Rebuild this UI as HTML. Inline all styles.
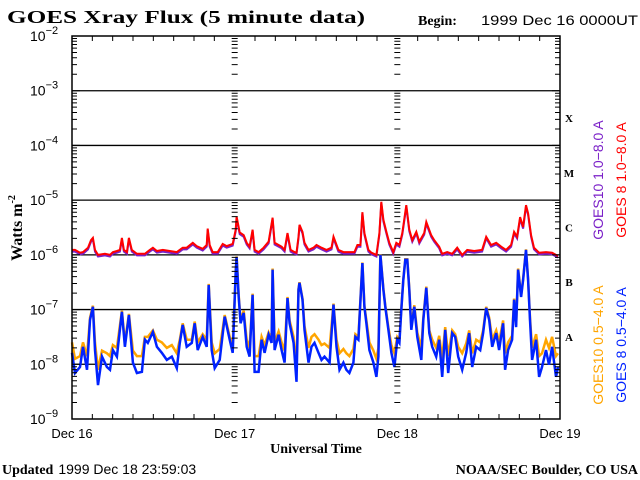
<!DOCTYPE html>
<html><head><meta charset="utf-8"><style>
html,body{margin:0;padding:0;background:#fff;}
svg{display:block;}
.sans{font-family:"Liberation Sans",sans-serif;}
.serif{font-family:"Liberation Serif",serif;font-weight:bold;}
</style></head><body>
<svg id="chart" width="640" height="480" viewBox="0 0 640 480" xmlns="http://www.w3.org/2000/svg">
<text class="serif" x="7" y="23" font-size="18" textLength="358" lengthAdjust="spacingAndGlyphs">GOES Xray Flux (5 minute data)</text>
<text class="serif" x="418" y="25" font-size="14">Begin:</text>
<text class="sans" x="481" y="25" font-size="14" textLength="157" lengthAdjust="spacingAndGlyphs">1999 Dec 16 0000UT</text>
<g id="grid"></g>
<g id="series"></g>
<g id="axes"></g>
<text class="serif" font-size="16" transform="translate(22,228) rotate(-90)" text-anchor="middle">Watts m<tspan font-size="10" dy="-7">-2</tspan></text>
<text class="serif" x="316" y="453" font-size="14" text-anchor="middle">Universal Time</text>
<text x="2" y="474" font-size="14"><tspan class="serif">Updated</tspan><tspan class="sans" dx="5">1999 Dec 18 23:59:03</tspan></text>
<text class="serif" x="638" y="474" font-size="14" text-anchor="end">NOAA/SEC Boulder, CO USA</text>
<text class="sans" font-size="14" fill="#7b20c8" transform="translate(603,180) rotate(-90)" text-anchor="middle">GOES10 1.0−8.0 A</text>
<text class="sans" font-size="14" fill="#ff0000" transform="translate(626,180) rotate(-90)" text-anchor="middle">GOES 8 1.0−8.0 A</text>
<text class="sans" font-size="14" fill="#ffa500" transform="translate(603,345) rotate(-90)" text-anchor="middle">GOES10 0.5−4.0 A</text>
<text class="sans" font-size="14" fill="#0022ff" transform="translate(626,345) rotate(-90)" text-anchor="middle">GOES 8 0.5−4.0 A</text>
</svg>
<script>
// log10 flux values (W m^-2) at times in hours from 1999 Dec 16 00:00 UT
const shortHours=[0,0.44,1.18,1.62,2.21,2.65,3.09,3.39,3.83,4.42,5.15,5.6,6.04,6.63,7.36,7.8,8.39,8.98,9.57,10.31,10.75,11.19,11.93,12.52,13.25,13.99,14.72,15.46,15.9,16.34,16.93,17.67,18.11,18.55,19.29,19.88,20.17,20.61,21.06,21.79,22.53,23.26,23.71,24.15,
24.29,24.59,24.88,25.33,25.77,26.21,26.65,26.94,27.53,27.98,28.42,29.01,29.45,29.59,29.89,30.48,30.92,31.36,31.8,32.1,32.69,33.13,33.42,33.57,34.01,34.31,34.9,35.34,35.78,36.37,36.81,37.25,38,38.58,39.02,39.46,40.05,40.49,40.93,41.52,41.82,42.26,42.85,43.14,43.44,43.88,44.47,44.91,45.2,45.5,45.94,46.23,46.68,47.12,47.56,48,
48.3,48.59,48.88,49.18,49.47,49.77,50.06,50.5,50.94,51.53,51.83,52.27,52.71,53.15,53.74,54.18,54.62,55.06,55.51,56.1,56.54,56.98,57.57,58.16,58.6,59.04,59.63,60.22,60.66,61.11,61.55,61.99,62.58,63.02,63.61,63.9,64.35,64.93,65.23,65.52,65.82,66.26,66.55,66.99,67.29,67.58,67.88,68.47,68.91,69.35,69.94,70.38,70.83,71.41,71.71];
const goes8Short=[-7.79,-8.16,-8.05,-7.68,-8.1,-7.19,-6.95,-7.74,-8.38,-7.86,-8.05,-8.1,-7.74,-7.86,-7.04,-7.68,-7.1,-7.97,-8.16,-8.14,-7.55,-7.61,-7.41,-7.68,-7.79,-7.92,-7.86,-8.07,-7.61,-7.28,-7.68,-7.61,-7.25,-7.74,-7.5,-7.68,-6.55,-7.74,-8.07,-7.92,-7.13,-7.55,-7.79,-6.33,
-6.04,-6.77,-7.25,-7.06,-7.68,-7.86,-6.73,-8.14,-8.14,-7.55,-7.79,-7.46,-7.61,-6.27,-7.74,-7.46,-7.74,-7.97,-6.79,-7.25,-7.61,-8.32,-6.64,-6.51,-6.82,-7.37,-7.97,-7.68,-7.61,-7.79,-7.92,-7.86,-7.97,-6.91,-7.68,-8.1,-7.97,-8.1,-8.16,-7.97,-7.5,-7.55,-6.15,-6.95,-7.25,-7.74,-7.97,-8.23,-7.86,-6,-6.64,-6.95,-7.37,-7.79,-8.05,-7.55,
-7.61,-7.01,-6.46,-6.09,-6.09,-6.64,-7.37,-6.95,-7.5,-7.92,-7.19,-6.6,-7.43,-7.68,-7.86,-7.55,-8.23,-7.37,-8.16,-7.43,-7.5,-7.86,-8.1,-7.79,-7.43,-8.05,-7.68,-7.74,-7.43,-6.97,-7.19,-7.68,-7.43,-7.74,-7.25,-8.1,-7.74,-7.55,-6.82,-7.32,-6.27,-6.77,-6.46,-5.91,-6.46,-7.19,-7.92,-7.55,-8.23,-8.05,-7.74,-8.01,-7.68,-8.23,-8.05];
const goes10Short=[-7.6,-7.9,-7.85,-7.6,-7.85,-7.15,-6.93,-7.6,-8.1,-7.75,-7.8,-7.85,-7.65,-7.7,-7.02,-7.6,-7.08,-7.75,-7.85,-7.85,-7.5,-7.5,-7.38,-7.55,-7.6,-7.7,-7.65,-7.8,-7.55,-7.25,-7.55,-7.55,-7.22,-7.6,-7.45,-7.55,-6.53,-7.6,-7.8,-7.72,-7.1,-7.5,-7.65,-6.32,
-6.03,-6.74,-7.2,-7.02,-7.55,-7.7,-6.71,-7.85,-7.85,-7.5,-7.65,-7.42,-7.55,-6.25,-7.6,-7.4,-7.6,-7.75,-6.77,-7.2,-7.5,-8.05,-6.62,-6.5,-6.8,-7.3,-7.7,-7.5,-7.45,-7.55,-7.65,-7.62,-7.7,-6.89,-7.55,-7.8,-7.72,-7.8,-7.85,-7.72,-7.45,-7.5,-6.14,-6.93,-7.2,-7.6,-7.75,-7.9,-7.7,-5.99,-6.62,-6.93,-7.33,-7.65,-7.8,-7.5,
-7.55,-6.98,-6.45,-6.08,-6.08,-6.62,-7.3,-6.92,-7.42,-7.7,-7.15,-6.58,-7.38,-7.55,-7.7,-7.48,-7.9,-7.32,-7.85,-7.38,-7.45,-7.68,-7.8,-7.62,-7.38,-7.8,-7.55,-7.6,-7.38,-6.95,-7.15,-7.55,-7.38,-7.6,-7.2,-7.8,-7.6,-7.48,-6.8,-7.28,-6.25,-6.74,-6.44,-5.9,-6.44,-7.15,-7.7,-7.45,-7.85,-7.8,-7.55,-7.7,-7.5,-7.85,-7.8];
const longHours=[0,0.44,1.18,1.62,2.36,2.8,3.09,3.39,3.83,4.86,5.6,6.04,6.63,7.07,7.36,7.66,8.1,8.39,8.83,9.57,10.75,11.48,11.93,12.52,13.4,14.43,15.46,16.34,16.93,17.82,18.4,19.29,19.88,20.02,20.32,20.76,21.5,22.23,22.82,23.71,24.15,
24.29,24.74,25.33,25.77,26.21,26.65,26.94,27.53,28.27,29.01,29.59,29.89,30.92,31.36,31.8,32.25,32.83,33.13,33.42,33.57,34.01,34.31,34.9,35.63,36.08,36.81,37.55,38.28,38.58,39.31,40.05,40.93,41.67,42.11,42.55,42.85,43.14,43.73,44.17,44.91,45.35,45.64,45.94,46.38,46.82,47.41,47.85,
48.3,48.74,49.33,49.77,50.21,50.8,51.24,51.97,52.27,53,53.44,54.18,54.62,55.36,56.1,56.84,57.57,58.31,59.34,60.51,61.11,61.84,62.58,63.32,64.05,64.79,65.23,65.67,66.11,66.55,66.99,67.29,67.73,68.17,68.91,69.94,70.83,71.71];
const goes8Long=[-5.91,-5.91,-5.96,-5.95,-5.87,-5.73,-5.69,-5.91,-6,-5.98,-6,-5.95,-5.93,-5.91,-5.69,-5.91,-5.95,-5.69,-5.91,-5.98,-5.98,-5.91,-5.87,-5.93,-5.91,-5.93,-5.95,-5.87,-5.87,-5.78,-5.84,-5.89,-5.82,-5.52,-5.82,-5.95,-5.95,-5.8,-5.84,-5.8,-5.54,
-5.3,-5.59,-5.64,-5.78,-5.85,-5.54,-5.91,-5.95,-5.87,-5.76,-5.32,-5.78,-5.85,-5.91,-5.6,-5.91,-5.95,-5.96,-5.67,-5.45,-5.58,-5.78,-5.91,-5.87,-5.82,-5.87,-5.91,-5.87,-5.67,-5.91,-5.95,-5.95,-5.95,-5.82,-5.82,-5.22,-5.6,-5.91,-5.96,-6,-5.6,-5.03,-5.36,-5.58,-5.78,-5.95,-5.78,
-5.82,-5.6,-5.09,-5.54,-5.73,-5.58,-5.76,-5.6,-5.4,-5.64,-5.73,-5.85,-5.98,-5.95,-5.98,-5.87,-6,-5.91,-5.93,-5.91,-5.67,-5.82,-5.78,-5.85,-5.91,-5.82,-5.58,-5.67,-5.31,-5.49,-5.09,-5.24,-5.64,-5.87,-5.96,-5.95,-5.96,-6.02];
const goes10Long=[-5.94,-5.94,-5.99,-5.98,-5.9,-5.76,-5.72,-5.94,-6.03,-6.01,-6.03,-5.98,-5.96,-5.94,-5.72,-5.94,-5.98,-5.72,-5.94,-6.01,-6.01,-5.94,-5.9,-5.96,-5.94,-5.96,-5.98,-5.9,-5.9,-5.81,-5.87,-5.92,-5.85,-5.55,-5.85,-5.98,-5.98,-5.83,-5.87,-5.83,-5.57,
-5.33,-5.62,-5.67,-5.81,-5.88,-5.57,-5.94,-5.98,-5.9,-5.79,-5.35,-5.81,-5.88,-5.94,-5.63,-5.94,-5.98,-5.99,-5.7,-5.48,-5.61,-5.81,-5.94,-5.9,-5.85,-5.9,-5.94,-5.9,-5.7,-5.94,-5.98,-5.98,-5.98,-5.85,-5.85,-5.25,-5.63,-5.94,-5.99,-6.03,-5.63,-5.06,-5.39,-5.61,-5.81,-5.98,-5.81,
-5.85,-5.63,-5.12,-5.57,-5.76,-5.61,-5.79,-5.63,-5.43,-5.67,-5.76,-5.88,-6.01,-5.98,-6.01,-5.9,-6.03,-5.94,-5.96,-5.94,-5.7,-5.85,-5.81,-5.88,-5.94,-5.85,-5.61,-5.7,-5.34,-5.52,-5.12,-5.27,-5.67,-5.9,-5.99,-5.98,-5.99,-6.05];
const decadeLabels=["-2","-3","-4","-5","-6","-7","-8","-9"];
const dayLabels=["Dec 16","Dec 17","Dec 18","Dec 19"];
const classLabels=["X","M","C","B","A"];

const NS="http://www.w3.org/2000/svg";
const X0=72,X1=560,Y0=36,Y1=419;
const xs=h=>X0+(X1-X0)*h/72;
const ys=lg=>Y0+(Y1-Y0)*(-2-lg)/7;
function mk(tag,parent,attrs){const e=document.createElementNS(NS,tag);for(const k in attrs)e.setAttribute(k,attrs[k]);parent.appendChild(e);return e;}
const grid=document.getElementById('grid'),axes=document.getElementById('axes'),ser=document.getElementById('series');
const fr=mk('rect',axes,{x:X0,y:Y0,width:X1-X0,height:Y1-Y0,fill:'none',stroke:'#000','stroke-width':1.5});


for(let d=-3;d>=-8;d--){const l=mk('line',grid,{x1:X0,x2:X1,y1:ys(d),y2:ys(d),stroke:'#000','stroke-width':1.3});

}
const vlines=[X0,xs(24),xs(48),X1];
let tk='';
vlines.forEach((vx,i)=>{for(let d=-2;d>-9;d--){for(let m=1;m<10;m++){const y=ys(d-1+Math.log10(m));const L=m===1?8:5;
 if(i===0)tk+=`M${vx},${y}h${L}`;else if(i===3)tk+=`M${vx},${y}h${-L}`;else tk+=`M${vx-3},${y}h6`;}}});
for(let h=3;h<72;h+=3){if(h%24===0)continue;const x=xs(h);tk+=`M${x},${Y0}v5M${x},${Y1}v-5`;}
const tp=mk('path',axes,{d:tk,stroke:'#000','stroke-width':1,fill:'none'});


decadeLabels.forEach((s,i)=>{const t=mk('text',axes,{x:30,y:ys(-2-i)+5,'font-size':14,class:'sans'});


t.innerHTML=`10<tspan font-size="11" dy="-7">${s.replace('-','−')}</tspan>`;});
dayLabels.forEach((s,i)=>{const t=mk('text',axes,{x:xs(24*i),y:438,'font-size':13,class:'sans','text-anchor':'middle'});


t.textContent=s;});
classLabels.forEach((s,i)=>{const t=mk('text',axes,{x:569,y:ys(-3.5-i)+4,'font-size':11,class:'serif','text-anchor':'middle'});


t.textContent=s;});
function line(hours,vals,color,name,w){const pts=hours.map((h,i)=>xs(h).toFixed(1)+','+ys(vals[i]).toFixed(1)).join(' ');
const p=mk('polyline',ser,{points:pts,fill:'none',stroke:color,'stroke-width':w,'stroke-linejoin':'miter'});

}
line(longHours,goes10Long,'#7b20c8','goes10-long-line',2);
line(longHours,goes8Long,'#ff0000','goes8-long-line',2);
line(shortHours,goes10Short,'#ffa500','goes10-short-line',2.5);
line(shortHours,goes8Short,'#0022ff','goes8-short-line',2.5);
</script>
</body></html>
